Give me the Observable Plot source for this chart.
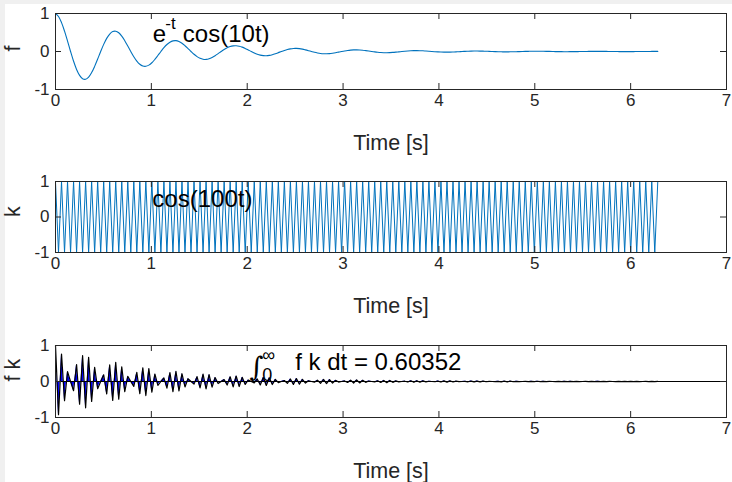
<!DOCTYPE html>
<html>
<head>
<meta charset="utf-8">
<script src="https://cdn.jsdelivr.net/npm/d3@7"></script>
<script src="https://cdn.jsdelivr.net/npm/@observablehq/plot@0.6"></script>
<style>
  html, body { margin: 0; padding: 0; background: #f0f0f0; }
  #fig { position: relative; width: 732px; height: 482px; background: #f0f0f0; overflow: hidden; }
  #paper { position: absolute; left: 5px; top: 4px; right: 0; bottom: 0; background: #ffffff; }
  #fig svg { position: absolute; left: 0; }
</style>
</head>
<body>
<div id="fig"><div id="paper"></div></div>
<script>
// ---- data ----
// f = e^-t cos(10t), sampled every sampleStep seconds from t = 0 to 2*pi
const fValues = [
  1, 0.922, 0.760, 0.535, 0.273, 0, -0.256, -0.472, -0.629, -0.717,
  -0.730, -0.673, -0.555, -0.391, -0.199, 0, 0.187, 0.345, 0.460, 0.524,
  0.533, 0.492, 0.405, 0.285, 0.145, 0, -0.137, -0.252, -0.336, -0.382,
  -0.390, -0.359, -0.296, -0.208, -0.106, 0, 0.100, 0.184, 0.245, 0.279,
  0.285, 0.262, 0.216, 0.152, 0.078, 0, -0.073, -0.134, -0.179, -0.204,
  -0.208, -0.192, -0.158, -0.111, -0.057, 0, 0.053, 0.098, 0.131, 0.149,
  0.152, 0.140, 0.115, 0.081, 0.041, 0, -0.039, -0.072, -0.096, -0.109,
  -0.111, -0.102, -0.084, -0.059, -0.030, 0, 0.028, 0.052, 0.070, 0.080,
  0.081, 0.075, 0.062, 0.043, 0.022, 0, -0.021, -0.038, -0.051, -0.058,
  -0.059, -0.055, -0.045, -0.032, -0.016, 0, 0.015, 0.028, 0.037, 0.042,
  0.043, 0.040, 0.033, 0.023, 0.012, 0, -0.011, -0.020, -0.027, -0.031,
  -0.032, -0.029, -0.024, -0.017, -0.009, 0, 0.008, 0.015, 0.020, 0.023,
  0.023, 0.021, 0.018, 0.012, 0.006, 0, -0.006, -0.011, -0.015, -0.017,
  -0.017, -0.016, -0.013, -0.009, -0.005, 0, 0.004, 0.008, 0.011, 0.012,
  0.012, 0.011, 0.009, 0.007, 0.003, 0, -0.003, -0.006, -0.008, -0.009,
  -0.009, -0.008, -0.007, -0.005, -0.002, 0, 0.002, 0.004, 0.006, 0.006,
  0.007, 0.006, 0.005, 0.004, 0.002, 0, -0.002, -0.003, -0.004, -0.005,
  -0.005, -0.004, -0.004, -0.003, -0.001, 0, 0.001, 0.002, 0.003, 0.003,
  0.004, 0.003, 0.003, 0.002, 0.001, 0, -0.001, -0.002, -0.002, -0.003,
  -0.003, -0.002, -0.002, -0.001, -0.001, 0, 0.001, 0.001, 0.002, 0.002,
  0.002
];
// k = cos(100t) at the same samples (its crests and troughs)
const kValues = [
  1,-1,1,-1,1,-1,1,-1,1,-1,1,-1,1,-1,1,-1,1,-1,1,-1,
  1,-1,1,-1,1,-1,1,-1,1,-1,1,-1,1,-1,1,-1,1,-1,1,-1,
  1,-1,1,-1,1,-1,1,-1,1,-1,1,-1,1,-1,1,-1,1,-1,1,-1,
  1,-1,1,-1,1,-1,1,-1,1,-1,1,-1,1,-1,1,-1,1,-1,1,-1,
  1,-1,1,-1,1,-1,1,-1,1,-1,1,-1,1,-1,1,-1,1,-1,1,-1,
  1,-1,1,-1,1,-1,1,-1,1,-1,1,-1,1,-1,1,-1,1,-1,1,-1,
  1,-1,1,-1,1,-1,1,-1,1,-1,1,-1,1,-1,1,-1,1,-1,1,-1,
  1,-1,1,-1,1,-1,1,-1,1,-1,1,-1,1,-1,1,-1,1,-1,1,-1,
  1,-1,1,-1,1,-1,1,-1,1,-1,1,-1,1,-1,1,-1,1,-1,1,-1,
  1,-1,1,-1,1,-1,1,-1,1,-1,1,-1,1,-1,1,-1,1,-1,1,-1,
  1
];
const sampleStep = 0.0314159;          // seconds between samples
const xTicks = [0, 1, 2, 3, 4, 5, 6, 7];
const yTicks = [-1, 0, 1];
const xLabel = "Time [s]";
const yLabels = ["f", "k", "f k"];
const fLabel = {x: 1, y: 0.5, base: "e", sup: "-t", rest: "cos(10t)"};
const kLabel = {x: 1, y: 0.5, text: "cos(100t)"};
const intLabel = {x: 2, y: 0.5, sign: "∫", upper: "∞", lower: "0", text: "f k dt = 0.60352"};

// ---- table built from the arrays ----
const rows = fValues.map((f, i) => ({t: i * sampleStep, f, k: kValues[i], fk: f * kValues[i]}));

// ---- layout ----
const W = 732, ML = 55, MR = 6, MT = 13, MB = 66;
const FW = W - ML - MR;
const ink = "#262626";
const font = "'Liberation Sans', Arial, Helvetica, sans-serif";
const matlabBlue = "#0072BD";
const tickLen = 6;

function subplot(top, frameH, ylab, marks) {
  const svg = Plot.plot({
    width: W, height: MT + frameH + MB,
    marginTop: MT, marginBottom: MB, marginLeft: ML, marginRight: MR,
    style: {background: "transparent", fontFamily: font, overflow: "visible"},
    x: {domain: [0, 7]},
    y: {domain: [-1, 1]},
    marks: [
      ...marks,
      Plot.frame({stroke: ink}),
      Plot.tickX(xTicks, {x: d => d, stroke: ink, insetTop: frameH - tickLen}),
      Plot.tickX(xTicks, {x: d => d, stroke: ink, insetBottom: frameH - tickLen}),
      Plot.tickY(yTicks, {y: d => d, stroke: ink, insetRight: FW - tickLen}),
      Plot.tickY(yTicks, {y: d => d, stroke: ink, insetLeft: FW - tickLen}),
      Plot.axisX({ticks: xTicks, tickSize: 0, tickPadding: 4, fontSize: 17, color: ink, label: null, tickFormat: d => String(d)}),
      Plot.axisY({ticks: yTicks, tickSize: 0, tickPadding: 6, fontSize: 17, color: ink, label: null, tickFormat: d => String(d)}),
      Plot.text([xLabel], {text: d => d, frameAnchor: "bottom", lineAnchor: "bottom", dy: 60, fontSize: 21.5, fill: ink}),
      Plot.text([ylab], {text: d => d, frameAnchor: "left", rotate: -90, dx: -42, fontSize: 21.5, fill: ink})
    ]
  });
  svg.style.top = top + "px";
  document.getElementById("fig").appendChild(svg);
}

// subplot 1: f
subplot(0, 76, yLabels[0], [
  Plot.line(rows, {x: "t", y: "f", stroke: matlabBlue, strokeWidth: 1.1, curve: "catmull-rom"}),
  Plot.text([fLabel], {x: "x", y: "y", text: "base", textAnchor: "start", lineAnchor: "bottom", dx: 1.5, dy: 9, fontSize: 24, fill: "black"}),
  Plot.text([fLabel], {x: "x", y: "y", text: "sup", textAnchor: "start", lineAnchor: "bottom", dx: 14, dy: -4, fontSize: 17, fill: "black"}),
  Plot.text([fLabel], {x: "x", y: "y", text: "rest", textAnchor: "start", lineAnchor: "bottom", dx: 31.5, dy: 9, fontSize: 24, fill: "black"})
]);

// subplot 2: k
subplot(168, 71, yLabels[1], [
  Plot.line(rows, {x: "t", y: "k", stroke: matlabBlue, strokeWidth: 1}),
  Plot.text([kLabel], {x: "x", y: "y", text: "text", textAnchor: "start", lineAnchor: "bottom", dx: 1, dy: 8, fontSize: 24, fill: "black"})
]);

// subplot 3: f*k
subplot(332, 72, yLabels[2], [
  Plot.areaY(rows, {x: "t", y: "fk", fill: "#0000ff"}),
  Plot.ruleY([0], {stroke: "black", strokeWidth: 1}),
  Plot.line(rows, {x: "t", y: "fk", stroke: "black", strokeWidth: 1.2}),
  Plot.text([intLabel], {x: "x", y: "y", text: "sign", textAnchor: "start", lineAnchor: "bottom", dx: 2, dy: 12, fontSize: 27, fontFamily: "'DejaVu Serif', serif", fontStyle: "italic", fill: "black"}),
  Plot.text([intLabel], {x: "x", y: "y", text: "upper", textAnchor: "start", lineAnchor: "bottom", dx: 15, dy: -3, fontSize: 18, fill: "black"}),
  Plot.text([intLabel], {x: "x", y: "y", text: "lower", textAnchor: "start", lineAnchor: "bottom", dx: 15, dy: 17, fontSize: 18, fill: "black"}),
  Plot.text([intLabel], {x: "x", y: "y", text: "text", textAnchor: "start", lineAnchor: "bottom", dx: 48, dy: 6, fontSize: 24, fill: "black"})
]);
</script>
</body>
</html>
